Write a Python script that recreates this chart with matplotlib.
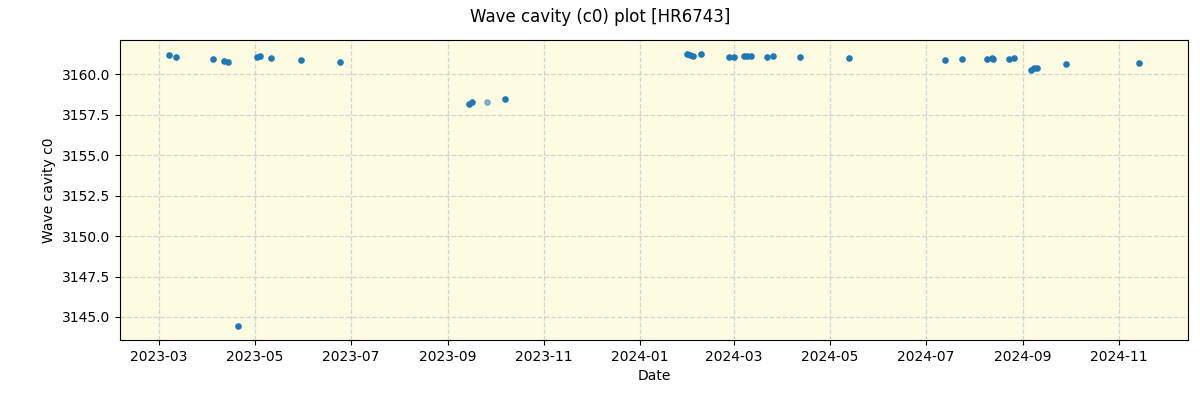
import pandas as pd
import matplotlib
matplotlib.use('Agg')
import matplotlib.pyplot as plt
import matplotlib.dates as mdates

# observation dates and fitted c0 values
dates = ['2023-03-07', '2023-03-12', '2023-04-04', '2023-04-11', '2023-04-14',
         '2023-04-20', '2023-05-02', '2023-05-04', '2023-05-11', '2023-05-30',
         '2023-06-24', '2023-09-14', '2023-09-16', '2023-10-07',
         '2024-01-31', '2024-02-02', '2024-02-04', '2024-02-09', '2024-02-27',
         '2024-03-01', '2024-03-07', '2024-03-09', '2024-03-12', '2024-03-22',
         '2024-03-26', '2024-04-12', '2024-05-13', '2024-07-13', '2024-07-24',
         '2024-08-09', '2024-08-12', '2024-08-13', '2024-08-23', '2024-08-26',
         '2024-09-06', '2024-09-08', '2024-09-10', '2024-09-28', '2024-11-14']
c0 = [3161.22, 3161.10, 3160.97, 3160.85, 3160.79,
      3144.42, 3161.10, 3161.16, 3161.03, 3160.91,
      3160.79, 3158.18, 3158.26, 3158.49,
      3161.24, 3161.20, 3161.16, 3161.28, 3161.10,
      3161.10, 3161.16, 3161.16, 3161.12, 3161.10,
      3161.16, 3161.10, 3161.03, 3160.91, 3160.95,
      3160.97, 3161.03, 3160.97, 3160.97, 3161.03,
      3160.27, 3160.37, 3160.41, 3160.66, 3160.72]

# the faint point
faint_dates = ['2023-09-26']
faint_c0 = [3158.26]

fig = plt.figure(figsize=(12, 4), dpi=100)
ax = plt.gca()
ax.set_facecolor('#fdfce2')

ax.scatter(pd.to_datetime(dates), c0, s=14, color='tab:blue', zorder=3)
ax.scatter(pd.to_datetime(faint_dates), faint_c0, s=14, color='tab:blue',
           alpha=0.5, zorder=3)

ax.grid(True, linestyle='--', color='lightgray', linewidth=0.9)
ax.set_axisbelow(True)
ax.xaxis.set_major_locator(mdates.MonthLocator(bymonth=[1, 3, 5, 7, 9, 11]))
ax.xaxis.set_major_formatter(mdates.DateFormatter('%Y-%m'))
ax.set_xlabel('Date')
ax.set_ylabel('Wave cavity c0')
fig.suptitle('Wave cavity (c0) plot [HR6743]')

plt.subplots_adjust(left=0.1, right=0.99, top=0.9, bottom=0.15)
plt.savefig('out.png')
